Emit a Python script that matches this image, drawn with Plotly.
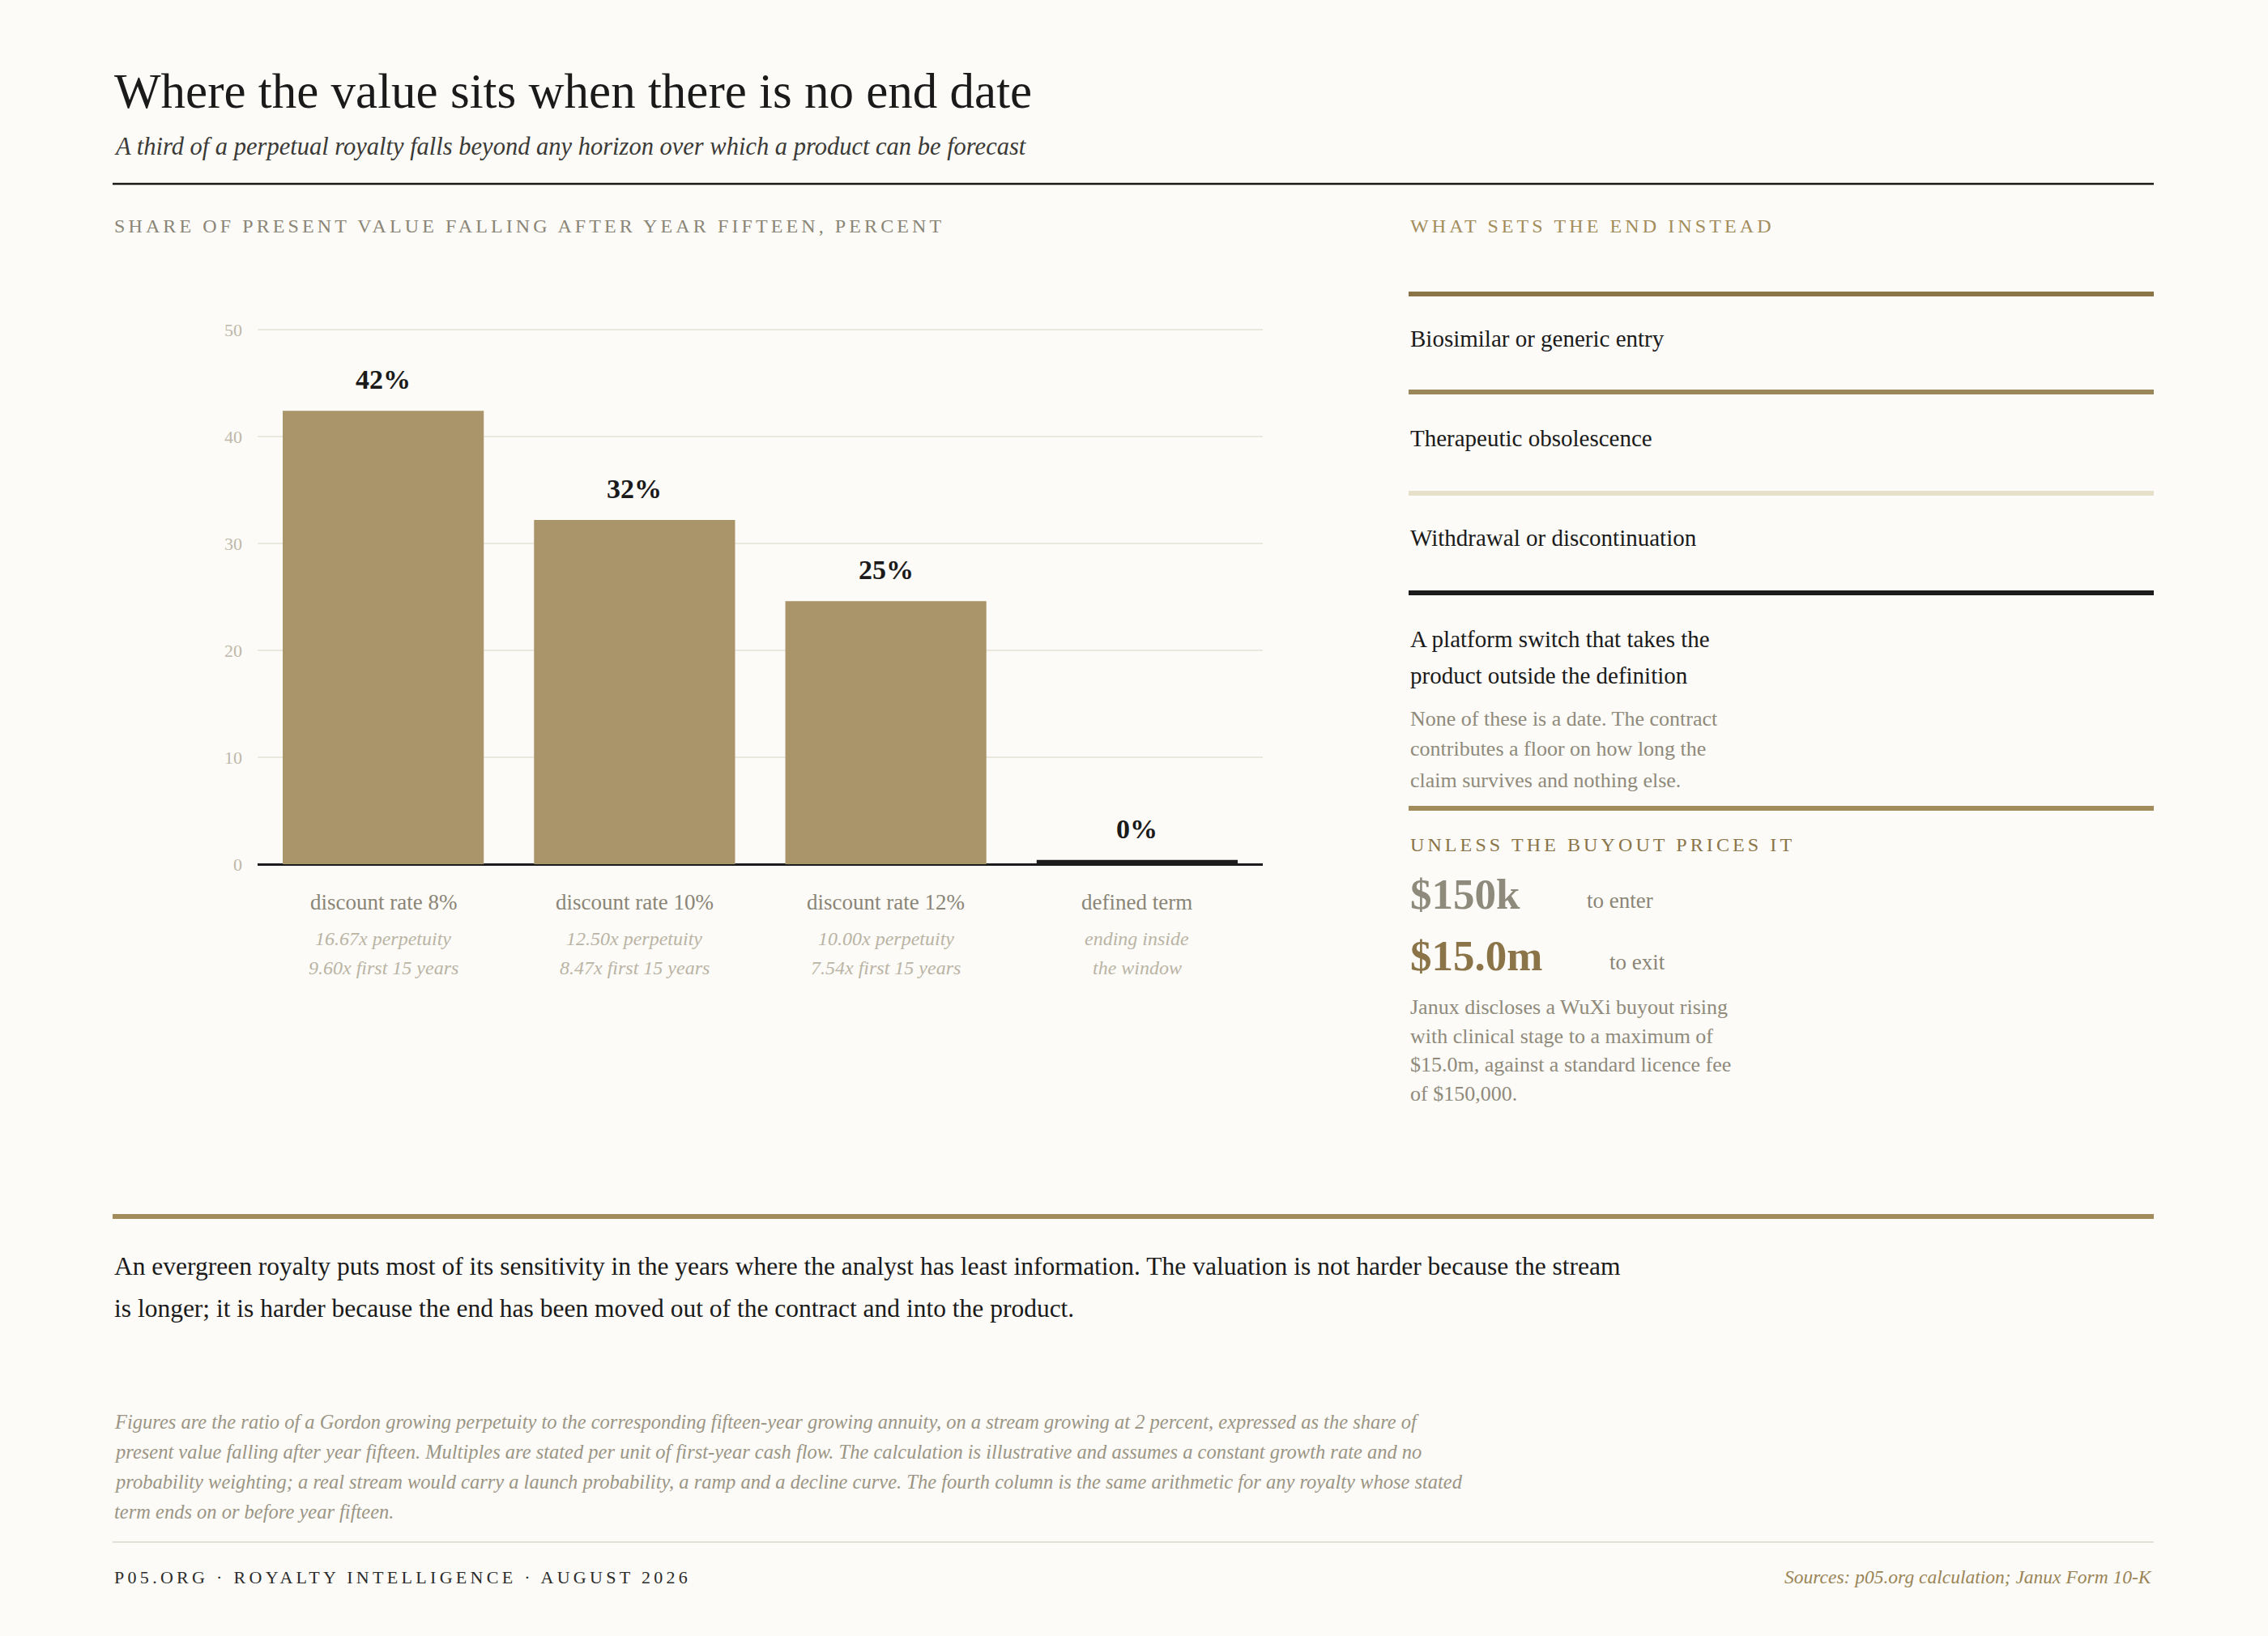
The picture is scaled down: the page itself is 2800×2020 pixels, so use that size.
import plotly.graph_objects as go

# canvas size in px
W, H = 2800, 2020
SERIF = "Liberation Serif, DejaVu Serif, serif"

# bar chart data
categories = ["discount rate 8%", "discount rate 10%", "discount rate 12%", "defined term"]
shares = [42.4, 32.2, 24.6, 0.0]
value_labels = ["42%", "32%", "25%", "0%"]
detail_line1 = ["16.67x perpetuity", "12.50x perpetuity", "10.00x perpetuity", "ending inside"]
detail_line2 = ["9.60x first 15 years", "8.47x first 15 years", "7.54x first 15 years", "the window"]
y_ticks = [0, 10, 20, 30, 40, 50]

# right column
end_drivers = ["Biosimilar or generic entry", "Therapeutic obsolescence",
               "Withdrawal or discontinuation",
               "A platform switch that takes the<br>product outside the definition"]
driver_note = ["None of these is a date. The contract",
               "contributes a floor on how long the",
               "claim survives and nothing else."]
buyout_figures = ["$150k", "$15.0m"]
buyout_captions = ["to enter", "to exit"]
buyout_note = ["Janux discloses a WuXi buyout rising",
               "with clinical stage to a maximum of",
               "$15.0m, against a standard licence fee",
               "of $150,000."]

paragraph = ["An evergreen royalty puts most of its sensitivity in the years where the analyst has least information. The valuation is not harder because the stream",
             "is longer; it is harder because the end has been moved out of the contract and into the product."]
footnote = ["Figures are the ratio of a Gordon growing perpetuity to the corresponding fifteen-year growing annuity, on a stream growing at 2 percent, expressed as the share of",
            "present value falling after year fifteen. Multiples are stated per unit of first-year cash flow. The calculation is illustrative and assumes a constant growth rate and no",
            "probability weighting; a real stream would carry a launch probability, a ramp and a decline curve. The fourth column is the same arithmetic for any royalty whose stated",
            "term ends on or before year fifteen."]

BG = "#fcfbf7"
INK = "#1a1a1a"
GOLD = "#a38c5c"
BROWN = "#8a7448"
BAR = "#a99569"
GREY = "#8a8576"
SOFT = "#8f8a7b"
LIGHT = "#bab4a5"


def px(x):
    return x / W


def py(y):
    return 1 - y / H


fig = go.Figure()

# zero bar still gets a sliver so the column reads
MIN_VISIBLE = 0.4
shown = [max(v, MIN_VISIBLE) for v in shares]
fig.add_trace(go.Bar(
    x=categories, y=shown,
    marker=dict(color=[BAR, BAR, BAR, "#1c1c1c"], line=dict(width=0)),
    hoverinfo="skip", showlegend=False,
))

L, R = 139, 2659
RC = 1739  # right column left edge


def text(x, y, s, size, color, xanchor="left", italic=False, bold=False, spacing=None):
    if spacing:
        s = f"<span style='letter-spacing:{spacing}px'>{s}</span>"
    fig.add_annotation(
        x=px(x), y=py(y), xref="paper", yref="paper", text=s, showarrow=False,
        xanchor=xanchor, yanchor="middle", align="left",
        font=dict(family=SERIF, size=size, color=color,
                  style="italic" if italic else "normal",
                  weight="bold" if bold else "normal"),
    )


def rule(x0, x1, y, width, color):
    fig.add_shape(type="line", xref="paper", yref="paper",
                  x0=px(x0), x1=px(x1), y0=py(y), y1=py(y),
                  line=dict(color=color, width=width))


# header
text(L, 112, "Where the value sits when there is no end date", 61, INK)
text(L, 181, "A third of a perpetual royalty falls beyond any horizon over which a product can be forecast",
     30.5, "#3b3a36", italic=True)
rule(L, R, 227, 2.5, INK)
text(L, 279, "SHARE OF PRESENT VALUE FALLING AFTER YEAR FIFTEEN, PERCENT", 24, GREY, spacing=4.1)
text(RC, 279, "WHAT SETS THE END INSTEAD", 24, GOLD, spacing=4.1)

# bar value labels + category labels
for i, cat in enumerate(categories):
    fig.add_annotation(x=cat, y=shown[i], xref="x", yref="y", text=value_labels[i],
                       showarrow=False, yanchor="bottom", yshift=18,
                       font=dict(family=SERIF, size=34, color=INK, weight="bold"))
    fig.add_annotation(x=cat, y=py(1114), xref="x", yref="paper", text=cat,
                       showarrow=False, yanchor="middle",
                       font=dict(family=SERIF, size=27, color=GREY))
    fig.add_annotation(x=cat, y=py(1159), xref="x", yref="paper", text=detail_line1[i],
                       showarrow=False, yanchor="middle",
                       font=dict(family=SERIF, size=24, color=LIGHT, style="italic"))
    fig.add_annotation(x=cat, y=py(1195), xref="x", yref="paper", text=detail_line2[i],
                       showarrow=False, yanchor="middle",
                       font=dict(family=SERIF, size=24, color=LIGHT, style="italic"))

# right column: what sets the end
rule_ys = [363, 484, 609, 732, 998]
rule_cols = [BROWN, "#9c875a", "#e6e0cb", "#1c1c1c", GOLD]
for y, c in zip(rule_ys, rule_cols):
    rule(RC, R, y, 6, c)
for y, s in zip([418, 541, 664], end_drivers[:3]):
    text(RC, y, s, 29, INK)
for y, s in zip([789, 834], end_drivers[3].split("<br>")):
    text(RC, y, s, 29, INK)
for y, s in zip([888, 925, 963], driver_note):
    text(RC, y, s, 26, SOFT)

text(RC, 1043, "UNLESS THE BUYOUT PRICES IT", 24, BROWN, spacing=4.1)
text(RC, 1104, buyout_figures[0], 53, "#8f8b7c", bold=True)
text(1957, 1112, buyout_captions[0], 27, GREY)
text(RC, 1180, buyout_figures[1], 53, BROWN, bold=True)
text(1985, 1188, buyout_captions[1], 27, GREY)
for y, s in zip([1243, 1279, 1314, 1350], buyout_note):
    text(RC, y, s, 26, SOFT)

# closing paragraph and notes
rule(L, R, 1502, 6, GOLD)
for y, s in zip([1563, 1615], paragraph):
    text(L, y, s, 31.5, INK)
for y, s in zip([1755, 1792, 1829, 1866], footnote):
    text(L, y, s, 24.5, "#9b9585", italic=True)
rule(L, R, 1904, 2, "#e2dfd6")
text(L, 1947, "P05.ORG · ROYALTY INTELLIGENCE · AUGUST 2026", 22, "#2b2b2b", spacing=4.3)
text(R, 1947, "Sources: p05.org calculation; Janux Form 10-K", 23.5, "#9a8456",
     xanchor="right", italic=True)

fig.update_layout(
    width=W, height=H,
    margin=dict(l=0, r=0, t=0, b=0),
    paper_bgcolor=BG, plot_bgcolor=BG,
    bargap=0.2,
    xaxis=dict(domain=[px(318), px(1559)], showticklabels=False, showgrid=False,
               zeroline=False, fixedrange=True, automargin=False),
    yaxis=dict(domain=[py(1067), py(400.4)], range=[0, 50.5], tickvals=y_ticks,
               tickfont=dict(family=SERIF, size=22, color="#bdb8aa"),
               gridcolor="#ebe8de", gridwidth=1.5,
               zeroline=True, zerolinecolor="#1c1c1c", zerolinewidth=2.5,
               ticklabelstandoff=18, fixedrange=True, automargin=False),
)

# pin the figure to the window corner so the page is exactly the canvas size
pin = (
    "var s=document.documentElement.style;s.margin='0';s.overflow='hidden';"
    "var b=document.body.style;b.margin='0';b.overflow='hidden';"
    "var g=document.querySelector('.plotly-graph-div').style;"
    "g.position='fixed';g.top='0';g.left='0';"
)
fig.write_html("out.html", config={"displayModeBar": False}, post_script=pin)
